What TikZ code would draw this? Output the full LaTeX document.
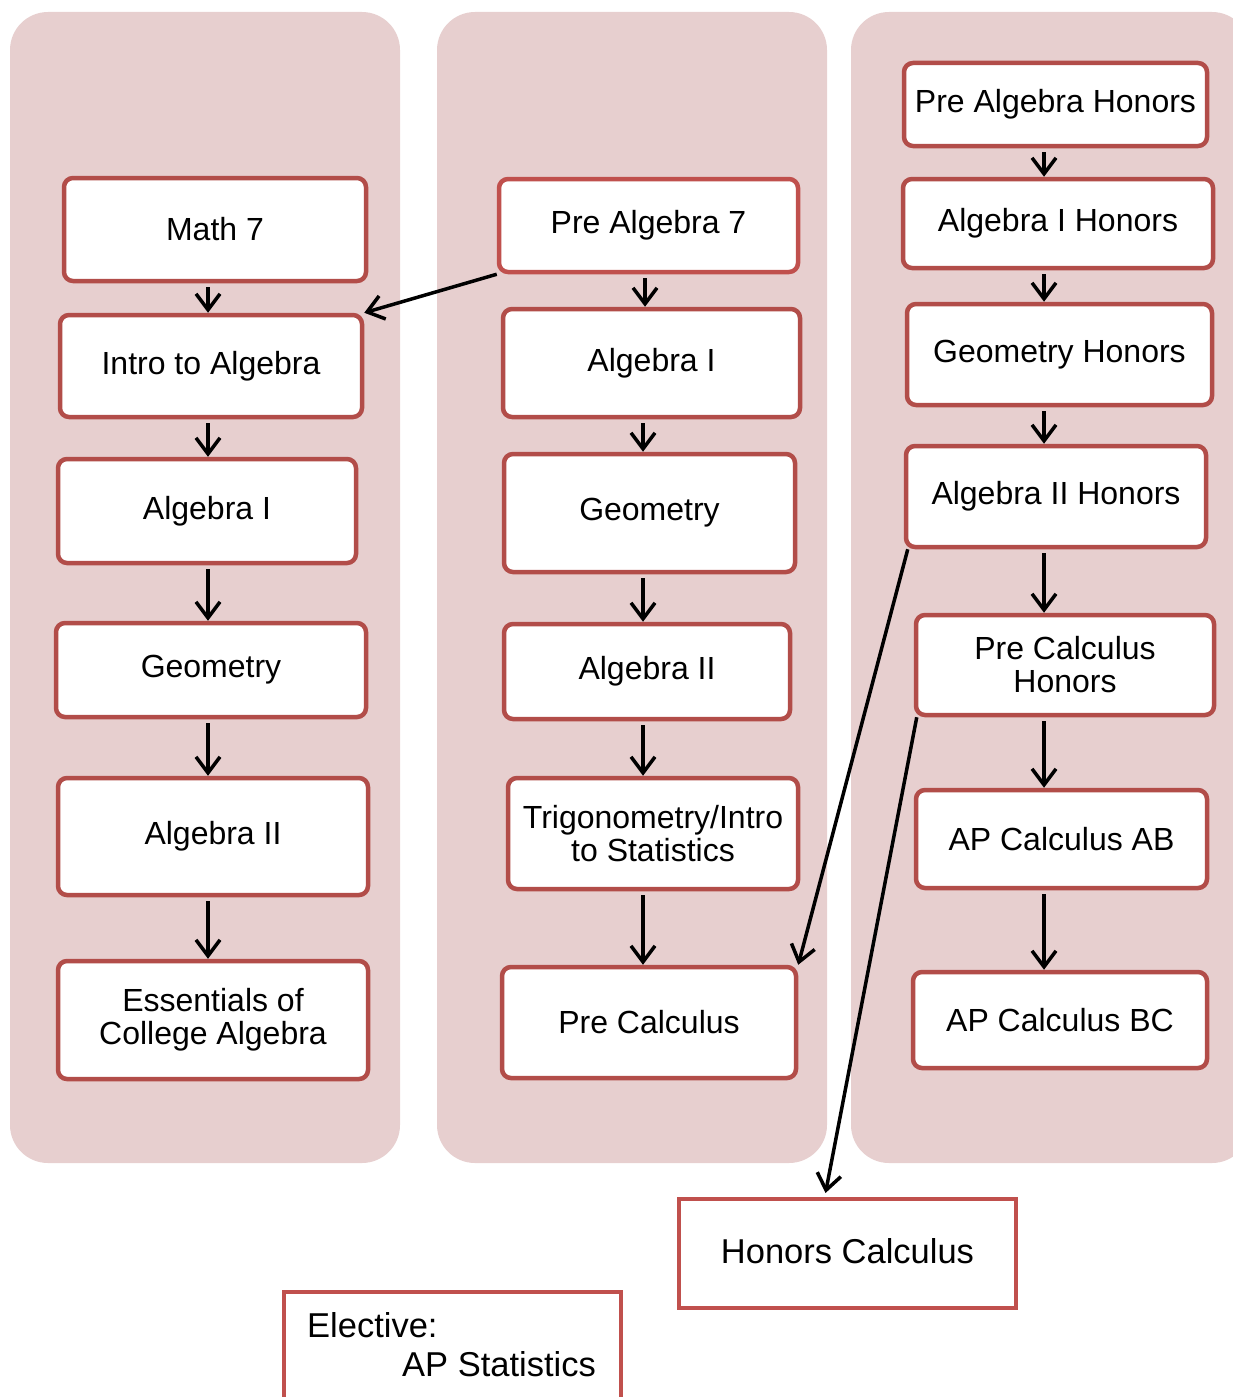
\documentclass[tikz,border=0pt]{standalone}
\usepackage{fontspec}
\setmainfont{Liberation Sans}
\usetikzlibrary{arrows.meta}
\definecolor{panelc}{HTML}{E7CFCF}
\definecolor{boxc}{HTML}{B24D49}
\definecolor{boxl}{HTML}{C0504D}
\begin{document}
\begin{tikzpicture}[x=1pt,y=-1pt,
  panel/.style={fill=panelc, rounded corners=38pt},
  box/.style={draw=boxc, line width=4.5pt, fill=white, rounded corners=9pt, align=center,
    font=\fontsize{32}{33}\selectfont, inner sep=0pt},
  sbox/.style={box, draw=boxl, rounded corners=0pt, line width=4pt, font=\fontsize{34.5}{36}\selectfont},
  txt/.style={font=\fontsize{34.5}{36}\selectfont, inner sep=0pt, anchor=base west},
  arr/.style={-{Straight Barb[length=16pt,width=24pt,line width=3.5pt]}, line width=3.5pt, black, shorten <=4pt}]
\useasboundingbox (0,0) rectangle (1232,1397);
% panels
\fill[panel] (10,12) rectangle (400,1163);
\fill[panel] (437,12) rectangle (827,1163);
\fill[panel] (851,12) rectangle (1250,1163);
% column axes
\coordinate (cL) at (208,0);
\coordinate (cM) at (643,0);
\coordinate (cR) at (1044,0);
% left column
\node[box, minimum width=302pt, minimum height=103pt] (m7) at (215,229.5) {Math 7};
\node[box, minimum width=302pt, minimum height=102pt] (intro) at (211,366) {Intro to Algebra};
\node[box, minimum width=298pt, minimum height=104pt] (la1) at (207,511) {Algebra I};
\node[box, minimum width=310pt, minimum height=94pt] (lgeo) at (211,670) {Geometry};
\node[box, minimum width=310pt, minimum height=117pt] (la2) at (213,836.5) {Algebra II};
\node[box, minimum width=310pt, minimum height=118pt] (ess) at (213,1020) {Essentials of\\College Algebra};
% middle column
\node[box, draw=boxl, minimum width=299pt, minimum height=93pt] (pa7) at (648.5,225.5) {Pre Algebra 7};
\node[box, minimum width=297pt, minimum height=108pt] (ma1) at (651.5,363) {Algebra I};
\node[box, minimum width=291pt, minimum height=118pt] (mgeo) at (649.5,513) {Geometry};
\node[box, minimum width=286pt, minimum height=95pt] (ma2) at (647,671.5) {Algebra II};
\node[box, minimum width=290pt, minimum height=111pt] (trig) at (653,833.5) {Trigonometry/Intro\\to Statistics};
\node[box, minimum width=294pt, minimum height=111pt] (pc) at (649,1022.5) {Pre Calculus};
% right column
\node[box, minimum width=303pt, minimum height=83pt] (pah) at (1055.5,104.5) {Pre Algebra Honors};
\node[box, minimum width=310pt, minimum height=89pt] (a1h) at (1058,223.5) {Algebra I Honors};
\node[box, minimum width=305pt, minimum height=101pt] (gh) at (1059.5,354.5) {Geometry Honors};
\node[box, minimum width=300pt, minimum height=101pt] (a2h) at (1056,496.5) {Algebra II Honors};
\node[box, minimum width=298pt, minimum height=100pt] (pch) at (1065,665) {Pre Calculus\\Honors};
\node[box, minimum width=291pt, minimum height=98pt] (apab) at (1061.5,839) {AP Calculus AB};
\node[box, minimum width=294pt, minimum height=96pt] (apbc) at (1060,1020) {AP Calculus BC};
% bottom boxes
\node[sbox, minimum width=337pt, minimum height=109pt] (hc) at (847.5,1253.5) {\raisebox{5pt}{Honors Calculus}};
\node[sbox, minimum width=337pt, minimum height=126pt] (el) at (452.5,1355) {};
\node[txt] (elt1) at (307,1337) {Elective:};
\node[txt] (elt2) at (402,1376) {AP Statistics};
% vertical arrows
\draw[arr] (m7.south -| cL) -- (intro.north -| cL);
\draw[arr] (intro.south -| cL) -- (la1.north -| cL);
\draw[arr] (la1.south -| cL) -- (lgeo.north -| cL);
\draw[arr] (lgeo.south -| cL) -- (la2.north -| cL);
\draw[arr] (la2.south -| cL) -- (ess.north -| cL);
\draw[arr] ([xshift=2pt]pa7.south -| cM) -- ([xshift=2pt]ma1.north -| cM);
\draw[arr] (ma1.south -| cM) -- (mgeo.north -| cM);
\draw[arr] (mgeo.south -| cM) -- (ma2.north -| cM);
\draw[arr] (ma2.south -| cM) -- (trig.north -| cM);
\draw[arr] (trig.south -| cM) -- (pc.north -| cM);
\draw[arr] (pah.south -| cR) -- (a1h.north -| cR);
\draw[arr] (a1h.south -| cR) -- (gh.north -| cR);
\draw[arr] (gh.south -| cR) -- (a2h.north -| cR);
\draw[arr] (a2h.south -| cR) -- (pch.north -| cR);
\draw[arr] (pch.south -| cR) -- (apab.north -| cR);
\draw[arr] (apab.south -| cR) -- (apbc.north -| cR);
% diagonal arrows
\draw[arr, shorten <=0pt] (pa7.south west) -- (intro.north east);
\draw[arr, shorten <=0pt] ([xshift=4pt]a2h.south west) -- (pc.north east);
\draw[arr, shorten <=0pt] ([xshift=3pt]pch.south west) -- ([xshift=-22pt,yshift=4pt]hc.north);
\end{tikzpicture}
\end{document}
